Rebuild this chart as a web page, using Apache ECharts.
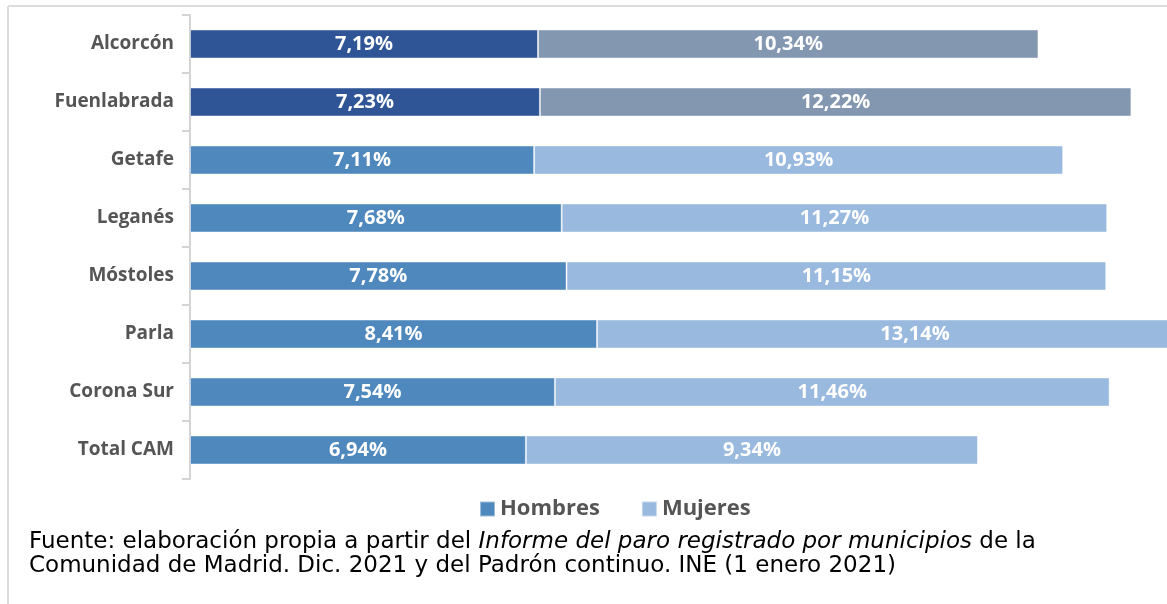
<!DOCTYPE html>
<html>
<head>
<meta charset="utf-8">
<script src="https://cdn.jsdelivr.net/npm/echarts@6/dist/echarts.min.js"></script>
<style>
  html, body { margin: 0; padding: 0; background: #ffffff; }
  #chart { width: 1167px; height: 604px; }
</style>
</head>
<body>
<div id="chart"></div>
<script>
// Tasa de paro por sexo en los municipios del sur de Madrid
const municipios = ['Alcorcón', 'Fuenlabrada', 'Getafe', 'Leganés', 'Móstoles', 'Parla', 'Corona Sur', 'Total CAM'];
const hombres = [7.19, 7.23, 7.11, 7.68, 7.78, 8.41, 7.54, 6.94];
const mujeres = [10.34, 12.22, 10.93, 11.27, 11.15, 13.14, 11.46, 9.34];
const serieNombres = ['Hombres', 'Mujeres'];
const fuenteLinea1 = ['Fuente: elaboración propia a partir del ', 'Informe del paro registrado por municipios', ' de la'];
const fuenteLinea2 = 'Comunidad de Madrid. Dic. 2021 y del Padrón continuo. INE (1 enero 2021)';

// Municipios destacados con tonos más oscuros
const destacados = ['Alcorcón', 'Fuenlabrada'];
const colores = {
  hombres: '#4F88BD', mujeres: '#99B9DF',
  hombresDest: '#2F5597', mujeresDest: '#8497B0'
};

const fmt = v => v.toFixed(2).replace('.', ',') + '%';

function serie(valores, colorBase, colorDest) {
  return valores.map((v, i) => ({
    value: v,
    itemStyle: { color: destacados.includes(municipios[i]) ? colorDest : colorBase }
  }));
}

const labelCfg = {
  show: true,
  position: 'inside',
  color: '#ffffff',
  fontFamily: 'Open Sans',
  fontWeight: 'bold',
  fontSize: 20,
  formatter: p => fmt(p.value)
};

const chart = echarts.init(document.getElementById('chart'), null, { renderer: 'canvas' });

chart.setOption({
  animation: false,
  backgroundColor: '#ffffff',
  grid: { left: 190, right: 9, top: 15, height: 464 },
  xAxis: {
    type: 'value', min: 0, max: 20,
    show: false
  },
  yAxis: {
    type: 'category',
    data: municipios,
    inverse: true,
    axisLine: { show: true, lineStyle: { color: '#d4d4d4', width: 2 } },
    axisTick: { show: true, length: 8, lineStyle: { color: '#d4d4d4', width: 2 } },
    axisLabel: {
      margin: 16,
      color: '#555555',
      fontFamily: 'Open Sans',
      fontWeight: 'bold',
      fontSize: 19
    },
    splitLine: { show: false }
  },
  legend: {
    data: serieNombres,
    left: 474,
    top: 493,
    icon: 'rect',
    itemWidth: 15,
    itemHeight: 15,
    itemGap: 41,
    textStyle: { color: '#555555', fontFamily: 'Open Sans', fontWeight: 'bold', fontSize: 22 }
  },
  series: [
    {
      name: serieNombres[0], type: 'bar', stack: 'total',
      barWidth: 29, clip: false,
      itemStyle: { color: colores.hombres, borderColor: 'rgba(255,255,255,0.45)', borderWidth: 1 },
      label: labelCfg,
      data: serie(hombres, colores.hombres, colores.hombresDest)
    },
    {
      name: serieNombres[1], type: 'bar', stack: 'total',
      barWidth: 29, clip: false,
      itemStyle: { color: colores.mujeres, borderColor: 'rgba(255,255,255,0.45)', borderWidth: 1 },
      label: labelCfg,
      data: serie(mujeres, colores.mujeres, colores.mujeresDest)
    }
  ],
  graphic: [
    { type: 'line', shape: { x1: 8, y1: 6, x2: 1167, y2: 6 }, style: { stroke: '#dcdcdc', lineWidth: 2 }, silent: true },
    { type: 'line', shape: { x1: 8, y1: 6, x2: 8, y2: 604 }, style: { stroke: '#dcdcdc', lineWidth: 2 }, silent: true },
    {
      type: 'text', left: 29, top: 531,
      style: {
        text: '{n|' + fuenteLinea1[0] + '}{i|' + fuenteLinea1[1] + '}{n|' + fuenteLinea1[2] + '}\n{n|' + fuenteLinea2 + '}',
        rich: {
          n: { fontFamily: 'DejaVu Sans', fontSize: 23, color: '#3b3b3b', lineHeight: 24 },
          i: { fontFamily: 'DejaVu Sans', fontStyle: 'italic', fontSize: 23, color: '#3b3b3b', lineHeight: 24 }
        }
      }
    }
  ]
});
</script>
</body>
</html>
